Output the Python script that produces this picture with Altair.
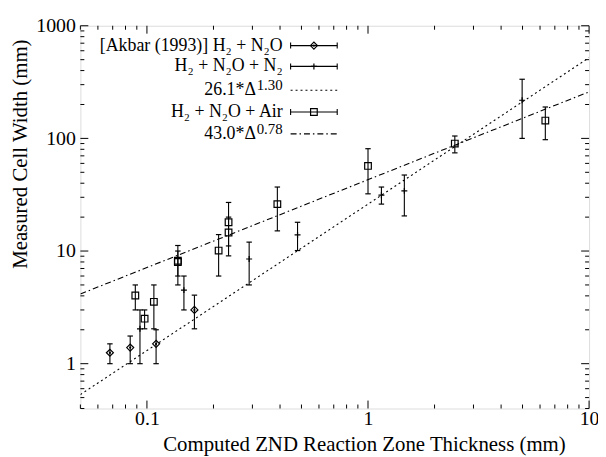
import altair as alt
import pandas as pd

# ---------------- data ----------------
# [Akbar (1993)] H2 + N2O  (diamonds)
akbar_x = [0.068, 0.084, 0.110, 0.164]
akbar_y = [1.25, 1.39, 1.50, 3.0]
akbar_lo = [1.0, 1.0, 1.0, 2.04]
akbar_hi = [1.5, 1.76, 2.0, 4.06]

# H2 + N2O + N2  (plus)
n2_x = [0.093, 0.147, 0.29, 0.48, 1.15, 1.46, 4.98]
n2_y = [2.04, 4.5, 8.5, 13.9, 31.3, 34.2, 218]
n2_lo = [1.0, 3.0, 5.0, 10.1, 26.1, 20.5, 100]
n2_hi = [3.0, 6.0, 12.0, 18.0, 37.0, 47.3, 335]

# H2 + N2O + Air  (squares)
air_x = [0.0886, 0.0976, 0.1075, 0.138, 0.138, 0.211, 0.234, 0.234, 0.389, 1.0, 2.47, 6.34]
air_y = [4.03, 2.51, 3.54, 8.0, 8.2, 10.1, 18.0, 14.6, 26.1, 57.0, 90.0, 144.0]
air_lo = [3.0, 2.04, 2.04, 5.0, 6.0, 6.0, 11.1, 9.06, 15.1, 32.2, 74.4, 97.4]
air_hi = [5.0, 3.0, 5.0, 11.2, 10.0, 14.0, 27.0, 20.0, 37.0, 81.0, 105.0, 190.0]

# fits  c * Delta^p
fit_coef = [26.1, 43.0]
fit_exp = [1.30, 0.78]
fit_dash = [[2, 3], [6, 3, 1.5, 3]]

# axes
x_domain = [0.05, 10]
y_domain = [0.4, 1000]
x_major = [0.1, 1, 10]
y_major = [1, 10, 100, 1000]
x_minor = [m * 10 ** e for e in (-2, -1, 0) for m in range(2, 10)]
x_minor = [v for v in x_minor if x_domain[0] <= v <= x_domain[1]]
y_minor = [m * 10 ** e for e in (-1, 0, 1, 2) for m in range(2, 10)]
y_minor = [v for v in y_minor if y_domain[0] <= v <= y_domain[1]]

leg_series = ["[Akbar (1993)] H\u2082 + N\u2082O", "H\u2082 + N\u2082O + N\u2082", None,
              "H\u2082 + N\u2082O + Air", None]
leg_fit_base = ["26.1*\u0394", "43.0*\u0394"]
leg_fit_exp = ["1.30", "0.78"]

# ---------------- layout ----------------
W, H = 513, 386
PX0, PY0 = 81, 24          # page position of the plot's top-left corner
FONT = "Liberation Serif"

xs = alt.Scale(type="log", domain=x_domain, nice=False)
ys = alt.Scale(type="log", domain=y_domain, nice=False)

PLUS = "M-1,0L1,0M0,-1L0,1"
CAP = "M-1,0L1,0"


def series_layers(xv, yv, lo, hi, shape, size):
    df = pd.DataFrame({"x": xv, "y": yv, "lo": lo, "hi": hi})
    base = alt.Chart(df)
    bar = base.mark_rule(color="black", strokeWidth=1.1).encode(
        x=alt.X("x:Q", scale=xs), y=alt.Y("lo:Q", scale=ys), y2="hi:Q")
    cap_lo = base.mark_point(shape=CAP, size=30, stroke="black", strokeWidth=1.2, opacity=1).encode(
        x=alt.X("x:Q", scale=xs), y=alt.Y("lo:Q", scale=ys))
    cap_hi = base.mark_point(shape=CAP, size=30, stroke="black", strokeWidth=1.2, opacity=1).encode(
        x=alt.X("x:Q", scale=xs), y=alt.Y("hi:Q", scale=ys))
    mk = base.mark_point(shape=shape, size=size, stroke="black", strokeWidth=1.2,
                         filled=False, opacity=1).encode(
        x=alt.X("x:Q", scale=xs), y=alt.Y("y:Q", scale=ys))
    return [bar, cap_lo, cap_hi, mk]


layers = []

# inward ticks on all four sides
for vals, axis, ln in ((x_major, "x", 8), (x_minor, "x", 4), (y_major, "y", 8), (y_minor, "y", 4)):
    d = alt.Chart(pd.DataFrame({"v": vals}))
    if axis == "x":
        layers.append(d.mark_rule(color="black", strokeWidth=1).encode(
            x=alt.X("v:Q", scale=xs), y=alt.value(H), y2=alt.value(H - ln)))
        layers.append(d.mark_rule(color="black", strokeWidth=1).encode(
            x=alt.X("v:Q", scale=xs), y=alt.value(0), y2=alt.value(ln)))
    else:
        layers.append(d.mark_rule(color="black", strokeWidth=1).encode(
            y=alt.Y("v:Q", scale=ys), x=alt.value(0), x2=alt.value(ln)))
        layers.append(d.mark_rule(color="black", strokeWidth=1).encode(
            y=alt.Y("v:Q", scale=ys), x=alt.value(W), x2=alt.value(W - ln)))

# fit lines
for c, p, dash in zip(fit_coef, fit_exp, fit_dash):
    fd = pd.DataFrame({"x": x_domain})
    layers.append(
        alt.Chart(fd).transform_calculate(y=f"{c} * pow(datum.x, {p})")
        .mark_line(color="black", strokeWidth=1.1, strokeDash=dash, clip=True)
        .encode(x=alt.X("x:Q", scale=xs), y=alt.Y("y:Q", scale=ys)))

layers += series_layers(akbar_x, akbar_y, akbar_lo, akbar_hi, "diamond", 50)
layers.append(alt.Chart(pd.DataFrame({"x": akbar_x, "y": akbar_y})).mark_point(
    shape="circle", size=5, filled=True, color="black", opacity=1).encode(
    x=alt.X("x:Q", scale=xs), y=alt.Y("y:Q", scale=ys)))
layers += series_layers(n2_x, n2_y, n2_lo, n2_hi, PLUS, 36)
layers += series_layers(air_x, air_y, air_lo, air_hi, "square", 45)

# ---------------- key (gnuplot style) ----------------
one = pd.DataFrame({"a": [0]})
TXT_R = 285 - PX0
S0, S1 = 293 - PX0, 340 - PX0
SM = (S0 + S1) / 2
row_y = [v - PY0 for v in (44, 65, 89, 111, 133)]
FS_LEG = 18
marker_for = {0: ("diamond", 50), 1: (PLUS, 36), 3: ("square", 45)}
fit_i = 0
for i, yy in enumerate(row_y):
    lab = leg_series[i]
    if lab is not None:
        layers.append(alt.Chart(pd.DataFrame({"t": [lab]})).mark_text(
            align="right", baseline="middle", font=FONT, fontSize=FS_LEG, color="black").encode(
            text="t:N", x=alt.value(TXT_R), y=alt.value(yy)))
        base = alt.Chart(one)
        layers.append(base.mark_rule(color="black", strokeWidth=1.1).encode(
            x=alt.value(S0), x2=alt.value(S1), y=alt.value(yy)))
        for sx in (S0, S1):
            layers.append(base.mark_rule(color="black", strokeWidth=1.1).encode(
                x=alt.value(sx), y=alt.value(yy - 3), y2=alt.value(yy + 3)))
        shp, sz = marker_for[i]
        layers.append(base.mark_point(shape=shp, size=sz, stroke="black", strokeWidth=1.2,
                                      filled=False, opacity=1).encode(
            x=alt.value(SM), y=alt.value(yy)))
        if i == 0:
            layers.append(base.mark_point(shape="circle", size=5, filled=True, color="black",
                                          opacity=1).encode(x=alt.value(SM), y=alt.value(yy)))
    else:
        b, e = leg_fit_base[fit_i], leg_fit_exp[fit_i]
        exp_w = 27
        layers.append(alt.Chart(pd.DataFrame({"t": [e]})).mark_text(
            align="right", baseline="middle", font=FONT, fontSize=15, color="black").encode(
            text="t:N", x=alt.value(TXT_R), y=alt.value(yy - 5)))
        layers.append(alt.Chart(pd.DataFrame({"t": [b]})).mark_text(
            align="right", baseline="middle", font=FONT, fontSize=FS_LEG, color="black").encode(
            text="t:N", x=alt.value(TXT_R - exp_w), y=alt.value(yy)))
        layers.append(alt.Chart(one).mark_rule(color="black", strokeWidth=1.1,
                                               strokeDash=fit_dash[fit_i]).encode(
            x=alt.value(S0), x2=alt.value(S1), y=alt.value(yy)))
        fit_i += 1

# axes carrying labels and titles (layer 0)
axis_layer = alt.Chart(pd.DataFrame({"x": x_domain, "y": y_domain})).mark_point(opacity=0).encode(
    x=alt.X("x:Q", scale=xs, axis=alt.Axis(
        values=x_major, format="~g", ticks=False, domain=False, grid=False,
        labelFont=FONT, labelFontSize=20, labelPadding=0, labelColor="black",
        labelOverlap=False, labelFlush=False,
        title="Computed ZND Reaction Zone Thickness (mm)", titleFont=FONT, titleFontSize=21,
        titleFontWeight="normal", titleColor="black", titleX=286, titleY=36,
        titleBaseline="middle", titleAlign="center")),
    y=alt.Y("y:Q", scale=ys, axis=alt.Axis(
        values=y_major, format="~g", ticks=False, domain=False, grid=False,
        labelFont=FONT, labelFontSize=20, labelPadding=5, labelColor="black",
        labelOverlap=False, labelFlush=False,
        title="Measured Cell Width (mm)", titleFont=FONT, titleFontSize=21,
        titleFontWeight="normal", titleColor="black", titleX=-60, titleY=129,
        titleBaseline="middle", titleAlign="center", titleAngle=270)),
)

chart = alt.layer(axis_layer, *layers).properties(
    width=W, height=H,
    autosize=alt.AutoSizeParams(type="none"),
    padding={"left": PX0 - 8, "top": PY0 - 8, "right": 9, "bottom": 47},
).configure_view(stroke="black", strokeWidth=1.5).configure(background="white")

chart.save("out.html", embed_options={"renderer": "svg", "actions": False})
